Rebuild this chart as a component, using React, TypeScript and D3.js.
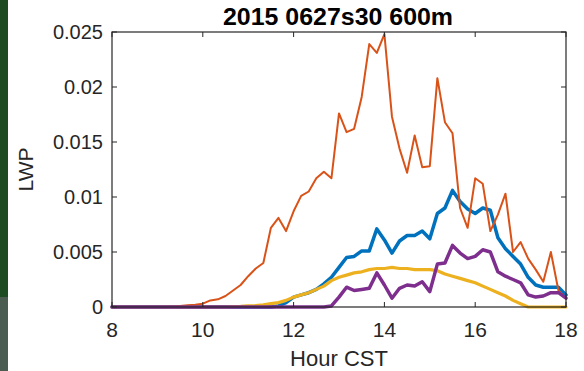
import React from 'react';
import * as d3 from 'd3';

// 10-minute samples from 08:00 to 18:00 CST
const hours = d3.range(61).map(i => 8 + i / 6);

const lwpBlue = [
  0, 0, 0, 0, 0, 0, 0, 0, 0, 0, 0, 0, 0, 0, 0, 0, 0, 0, 0, 0, 0, 0,
  0.0001, 0.0004, 0.0009, 0.0011, 0.0013, 0.0016, 0.0021, 0.0027, 0.0036, 0.0045,
  0.0046, 0.0051, 0.0051, 0.0071, 0.0061, 0.0049, 0.006, 0.0065, 0.0065, 0.0069,
  0.0062, 0.0085, 0.009, 0.0106, 0.0096, 0.0089, 0.0085, 0.009, 0.0088, 0.0063,
  0.0053, 0.0046, 0.0039, 0.0027, 0.002, 0.0018, 0.0018, 0.0018, 0.0011,
];

const lwpOrange = [
  0, 0, 0, 0, 0, 0, 0, 0.00002, 0.00005, 0.0001, 0.00015, 0.0002, 0.0003, 0.0006,
  0.0007, 0.001, 0.0015, 0.002, 0.0028, 0.0035, 0.004, 0.0072, 0.0081, 0.0069,
  0.0087, 0.0101, 0.0105, 0.0117, 0.0123, 0.0117, 0.0176, 0.0159, 0.0162, 0.0191,
  0.0239, 0.0231, 0.0248, 0.0173, 0.0144, 0.0122, 0.0156, 0.0127, 0.0128, 0.0208,
  0.0168, 0.0158, 0.009, 0.0072, 0.0117, 0.0112, 0.0069, 0.0084, 0.0103, 0.005,
  0.0059, 0.0044, 0.0034, 0.0023, 0.005, 0.0015, 0.0008,
];

const lwpYellow = [
  0, 0, 0, 0, 0, 0, 0, 0, 0, 0, 0, 0, 0, 0, 0, 0, 0.00003, 0.00005, 0.0001, 0.00013,
  0.0002, 0.0003, 0.0004, 0.0006, 0.0009, 0.0011, 0.0013, 0.0016, 0.0019, 0.0024,
  0.0027, 0.0029, 0.0031, 0.0032, 0.0034, 0.0035, 0.0035, 0.0036, 0.0035, 0.0035,
  0.0034, 0.0034, 0.0034, 0.0033, 0.003, 0.0028, 0.0026, 0.0024, 0.0022, 0.0019,
  0.0016, 0.0013, 0.001, 0.0006, 0.0003, 0, 0, 0, 0, 0, 0,
];

const lwpPurple = [
  0, 0, 0, 0, 0, 0, 0, 0, 0, 0, 0, 0, 0, 0, 0, 0, 0, 0, 0, 0, 0, 0, 0, 0, 0, 0, 0, 0, 0,
  0.0001, 0.0009, 0.0018, 0.0015, 0.0016, 0.0017, 0.0031, 0.002, 0.0008, 0.0017,
  0.002, 0.0019, 0.0023, 0.0014, 0.0039, 0.004, 0.0056, 0.0049, 0.0044, 0.0046,
  0.0052, 0.005, 0.0032, 0.0028, 0.0025, 0.0022, 0.0011, 0.0009, 0.001, 0.0013,
  0.0013, 0.0008,
];

const xTicks = [8, 10, 12, 14, 16, 18];
const yTicks = [0, 0.005, 0.01, 0.015, 0.02, 0.025];
const yTickLabels = ['0', '0.005', '0.01', '0.015', '0.02', '0.025'];

const series = [
  { values: lwpBlue, color: '#0072BD', width: 3.5 },
  { values: lwpOrange, color: '#D95319', width: 2 },
  { values: lwpYellow, color: '#EDB120', width: 3.2 },
  { values: lwpPurple, color: '#7E2F8E', width: 3.5 },
];

const W = 584;
const H = 371;
const plot = { left: 112, right: 566, top: 32, bottom: 307 };
const axisColor = '#262626';
const font = 'Arial, "Liberation Sans", Helvetica, sans-serif';

export default function App() {
  const x = d3.scaleLinear().domain([8, 18]).range([plot.left, plot.right]);
  const y = d3.scaleLinear().domain([0, 0.025]).range([plot.bottom, plot.top]);

  const line = d3.line<number>()
    .x((_, i) => x(hours[i]))
    .y(d => y(d));

  const tick = 5;

  return (
    <svg
      width={W}
      height={H}
      style={{ position: 'absolute', left: 0, top: 0, background: '#fff' }}
    >
      <rect x={0} y={0} width={W} height={H} fill="#fff" />
      {/* slide background strips at the left edge */}
      <rect x={0} y={0} width={8} height={297} fill="#1d4b22" />
      <rect x={0} y={297} width={8} height={H - 297} fill="#4b5c51" />

      {/* data lines */}
      {series.map((s, k) => (
        <path
          key={k}
          d={line(s.values) || ''}
          fill="none"
          stroke={s.color}
          strokeWidth={s.width}
          strokeLinejoin="round"
          strokeLinecap="round"
        />
      ))}

      {/* axes box */}
      <rect
        x={plot.left}
        y={plot.top}
        width={plot.right - plot.left}
        height={plot.bottom - plot.top}
        fill="none"
        stroke={axisColor}
        strokeWidth={1.2}
      />

      {/* x ticks */}
      {xTicks.map(t => (
        <g key={'x' + t}>
          <line x1={x(t)} x2={x(t)} y1={plot.bottom} y2={plot.bottom - tick} stroke={axisColor} />
          <line x1={x(t)} x2={x(t)} y1={plot.top} y2={plot.top + tick} stroke={axisColor} />
          <text
            x={x(t)}
            y={337}
            textAnchor="middle"
            fontFamily={font}
            fontSize={21}
            fill={axisColor}
          >
            {t}
          </text>
        </g>
      ))}

      {/* y ticks */}
      {yTicks.map((t, i) => (
        <g key={'y' + i}>
          <line x1={plot.left} x2={plot.left + tick} y1={y(t)} y2={y(t)} stroke={axisColor} />
          <line x1={plot.right} x2={plot.right - tick} y1={y(t)} y2={y(t)} stroke={axisColor} />
          <text
            x={103}
            y={y(t)}
            dy="0.36em"
            textAnchor="end"
            fontFamily={font}
            fontSize={20}
            fill={axisColor}
          >
            {yTickLabels[i]}
          </text>
        </g>
      ))}

      {/* labels */}
      <text
        x={339}
        y={366}
        textAnchor="middle"
        fontFamily={font}
        fontSize={22}
        fill={axisColor}
      >
        Hour CST
      </text>
      <text
        transform={`translate(33,${(plot.top + plot.bottom) / 2}) rotate(-90)`}
        textAnchor="middle"
        fontFamily={font}
        fontSize={21}
        fill={axisColor}
      >
        LWP
      </text>
      <text
        x={338}
        y={25}
        textAnchor="middle"
        fontFamily={font}
        fontWeight="bold"
        fontSize={23}
        textLength={230}
        lengthAdjust="spacingAndGlyphs"
        fill="#000"
      >
        2015 0627s30 600m
      </text>
    </svg>
  );
}
